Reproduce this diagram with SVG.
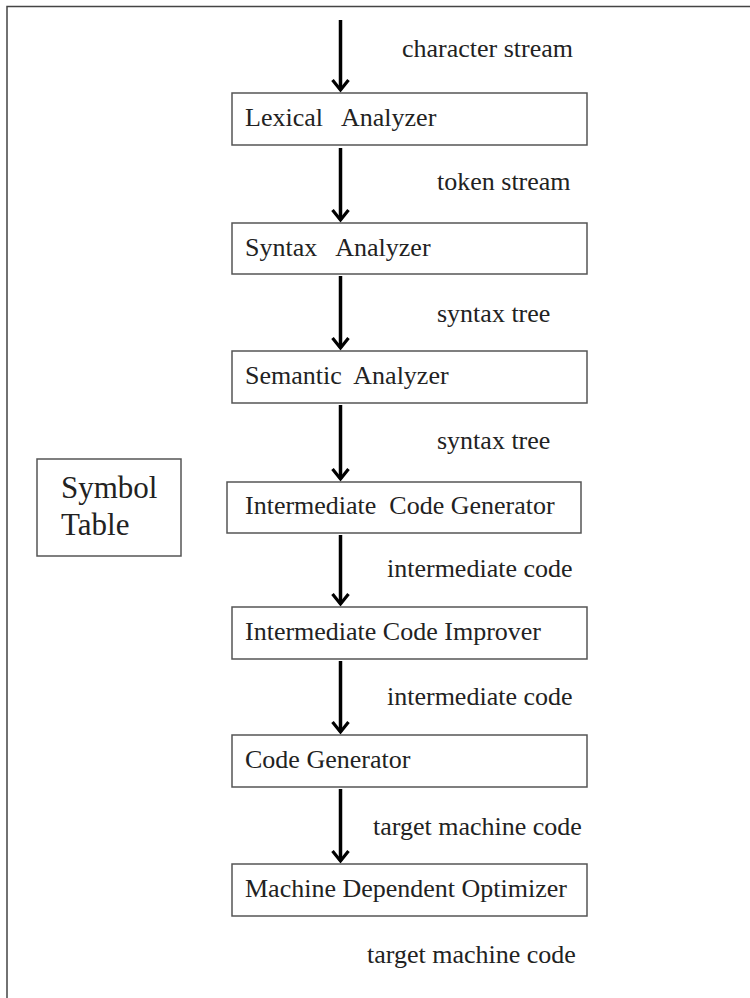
<svg xmlns="http://www.w3.org/2000/svg" width="750" height="998" viewBox="0 0 750 998">
<defs>
<style>
.box{fill:#fff;stroke:#555;stroke-width:1.5}
.t{font-family:"Liberation Serif","Times New Roman",serif;font-size:26px;fill:#222}
.big{font-size:31px}
.conn line{stroke:#000;stroke-width:3.5}
.frame{stroke:#444;stroke-width:1.5;fill:none}
</style>
<marker id="arr" markerUnits="userSpaceOnUse" markerWidth="24" markerHeight="24" refX="12" refY="12" orient="auto" viewBox="0 0 24 24">
<path d="M2,4 L12,12 L2,20" fill="none" stroke="#000" stroke-width="3.2" stroke-linejoin="miter"/>
</marker>
</defs>
<rect width="750" height="998" fill="#fff"/>
<path class="frame" d="M7,998 V6.5 H750"/>
<g id="connectors" class="conn">
<line x1="340.5" y1="20" x2="340.5" y2="90" marker-end="url(#arr)"/>
<line x1="340.5" y1="148" x2="340.5" y2="220" marker-end="url(#arr)"/>
<line x1="340.5" y1="276" x2="340.5" y2="348" marker-end="url(#arr)"/>
<line x1="340.5" y1="405" x2="340.5" y2="479" marker-end="url(#arr)"/>
<line x1="340.5" y1="535" x2="340.5" y2="604" marker-end="url(#arr)"/>
<line x1="340.5" y1="661" x2="340.5" y2="732" marker-end="url(#arr)"/>
<line x1="340.5" y1="789" x2="340.5" y2="861" marker-end="url(#arr)"/>
</g>
<g id="labels">
<text class="t" x="402" y="57">character stream</text>
<text class="t" x="437" y="190">token stream</text>
<text class="t" x="437" y="322">syntax tree</text>
<text class="t" x="437" y="449">syntax tree</text>
<text class="t" x="387" y="577">intermediate code</text>
<text class="t" x="387" y="705">intermediate code</text>
<text class="t" x="373" y="835">target machine code</text>
<text class="t" x="367" y="963">target machine code</text>
</g>
<g id="lexical">
<rect class="box" x="232" y="93" width="355" height="52"/>
<text class="t" x="245" y="126" xml:space="preserve">Lexical   Analyzer</text>
</g>
<g id="syntax">
<rect class="box" x="232" y="223" width="355" height="51"/>
<text class="t" x="245" y="256" xml:space="preserve">Syntax   Analyzer</text>
</g>
<g id="semantic">
<rect class="box" x="232" y="351" width="355" height="52"/>
<text class="t" x="245" y="384" xml:space="preserve">Semantic  Analyzer</text>
</g>
<g id="icg">
<rect class="box" x="227" y="482" width="354" height="51"/>
<text class="t" x="245" y="514" xml:space="preserve">Intermediate  Code Generator</text>
</g>
<g id="improver">
<rect class="box" x="232" y="607" width="355" height="52"/>
<text class="t" x="245" y="640">Intermediate Code Improver</text>
</g>
<g id="codegen">
<rect class="box" x="232" y="735" width="355" height="52"/>
<text class="t" x="245" y="768">Code Generator</text>
</g>
<g id="mdo">
<rect class="box" x="232" y="864" width="355" height="52"/>
<text class="t" x="245" y="897">Machine Dependent Optimizer</text>
</g>
<g id="symbol-table">
<rect class="box" x="37" y="459" width="144" height="97"/>
<text class="t big" x="61" y="498">Symbol</text>
<text class="t big" x="61" y="535">Table</text>
</g>
</svg>
